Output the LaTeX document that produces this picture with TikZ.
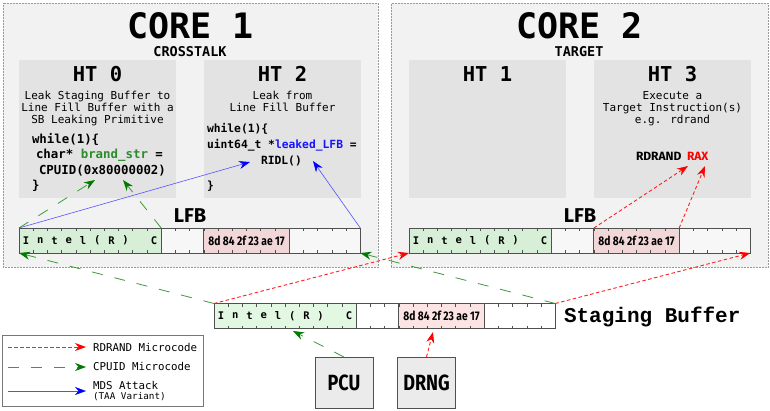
\documentclass[tikz,border=0pt]{standalone}
\usepackage{fontspec}
\usetikzlibrary{calc,arrows.meta}
\newfontfamily\monof{DejaVu Sans Mono}
\newfontfamily\sansf{Fira Sans}
\newfontfamily\hexf[FakeStretch=0.82]{Fira Sans}
\newfontfamily\courf{Liberation Mono}
\definecolor{corebg}{HTML}{F2F2F2}
\definecolor{htbg}{HTML}{E3E3E3}
\definecolor{coreborder}{HTML}{9A9A9A}
\definecolor{cgreen}{HTML}{D6EFD6}
\definecolor{cpink}{HTML}{F2D7D9}
\definecolor{cwhite}{HTML}{F7F7F7}
\definecolor{sgreen}{HTML}{E3F8E3}
\definecolor{spink}{HTML}{FDE4E4}
\definecolor{swhite}{HTML}{FFFFFF}
\definecolor{segline}{HTML}{505050}
\definecolor{redarr}{HTML}{FF0000}
\definecolor{redline}{HTML}{FF2020}
\definecolor{greenarr}{HTML}{007A00}
\definecolor{greenline}{HTML}{3C9A3C}
\definecolor{bluearr}{HTML}{0000FF}
\definecolor{blueline}{HTML}{5050FF}
\definecolor{codegreen}{HTML}{2A8C2A}
\definecolor{codeblue}{HTML}{1414FF}
\definecolor{boxbg}{HTML}{EBEBEB}
\definecolor{legborder}{HTML}{777777}
\newcommand\fsz[1]{\fontsize{#1}{#1}\selectfont}
\tikzset{
  txt/.style={inner sep=0pt, outer sep=0pt},
  corebox/.style={draw=coreborder, densely dotted, line width=0.5pt, fill=corebg, inner sep=0pt, outer sep=0pt, anchor=north west},
  htbox/.style={fill=htbg, draw=none, minimum width=157pt, minimum height=138pt, inner sep=0pt, outer sep=0pt, anchor=north west},
  seg/.style={draw=segline, line width=0.8pt, minimum height=25pt, inner sep=0pt, outer sep=0pt},
  tick/.style={draw=segline, line width=0.6pt},
  bufchar/.style={txt, font={\monof\bfseries\fsz{10.5}}},
  hexs/.style={txt, font={\hexf\bfseries\fsz{12.5}}},
  hwbox/.style={fill=boxbg, draw=segline, line width=0.8pt, minimum width=58pt, minimum height=51pt, inner sep=0pt, outer sep=0pt, anchor=north west, font={\hexf\bfseries\fsz{22}}},
  rdarr/.style={draw=redline, line width=0.9pt, dash pattern=on 3.5pt off 2.5pt, -{Stealth[length=11pt,width=8pt,color=redarr]}},
  grarr/.style={draw=greenline, line width=0.8pt, dash pattern=on 11pt off 12pt, -{Stealth[length=11pt,width=8pt,color=greenarr]}},
  blarr/.style={draw=blueline, line width=0.6pt, -{Stealth[length=11pt,width=8pt,color=bluearr]}},
  desc/.style={txt, anchor=base, font={\monof\fsz{11}}},
  htlab/.style={txt, anchor=base, font={\monof\bfseries\fsz{20.5}}},
  code/.style={txt, anchor=base west, font={\monof\bfseries\fsz{12.4}}},
  codesm/.style={txt, anchor=base west, font={\monof\bfseries\fsz{11.3}}},
  leglab/.style={txt, anchor=base west, font={\monof\fsz{10.8}}}
}
\newcommand\mkbuf[6]{%
  \node[seg,fill=#4,minimum width=142.2pt,anchor=north west] (#1g) at (#2,#3) {};
  \node[seg,fill=#6,minimum width=42.66pt,anchor=north west] (#1a) at (#1g.north east) {};
  \node[seg,fill=#5,minimum width=85.32pt,anchor=north west] (#1p) at (#1a.north east) {};
  \node[seg,fill=#6,minimum width=71.1pt,anchor=north west] (#1b) at (#1p.north east) {};
  \foreach \i in {1,...,23}{
    \draw[tick] ($(#1g.north west)+(\i*14.22,0)$) -- ++(0,3);
    \draw[tick] ($(#1g.south west)+(\i*14.22,0)$) -- ++(0,-3);
  }
  \foreach \c [count=\i from 0] in {I,n,t,e,l,{(},R,{)},{},C}{
    \node[bufchar] (#1c\i) at ($(#1g.west)+({(\i+0.5)*14.22},0)$) {\c};
  }
  \node[hexs] (#1h) at (#1p.center) {8d 84 2f 23 ae 17};
}
\begin{document}
\begin{tikzpicture}[x=1pt,y=-1pt]
\useasboundingbox (0,0) rectangle (770,410);
\fill[white] (0,0) rectangle (770,410);
% cores
\node[corebox, minimum width=375pt, minimum height=264pt] (core1) at (3,3) {};
\node[corebox, minimum width=377pt, minimum height=264pt] (core2) at (391,3) {};
\node[txt, anchor=base, font={\monof\bfseries\fsz{35}}] (t1) at (190.5,38.5) {CORE 1};
\node[txt, anchor=base, font={\monof\bfseries\fsz{13.5}}] (s1) at (190,56.5) {CROSSTALK};
\node[txt, anchor=base, font={\monof\bfseries\fsz{35}}] (t2) at (579.5,38.5) {CORE 2};
\node[txt, anchor=base, font={\monof\bfseries\fsz{13.5}}] (s2) at (579,56.5) {TARGET};
% hyperthreads
\node[htbox] (ht0) at (19,60) {};
\node[htbox] (ht2) at (204,60) {};
\node[htbox] (ht1) at (409,60) {};
\node[htbox] (ht3) at (594,60) {};
\node[htlab] (ht0l) at (97.5,81.5) {HT 0};
\node[htlab] (ht2l) at (282.5,81.5) {HT 2};
\node[htlab] (ht1l) at (487.5,81.5) {HT 1};
\node[htlab] (ht3l) at (672.5,81.5) {HT 3};
\node[desc] (d01) at (97.5,99.5) {Leak Staging Buffer to};
\node[desc] (d02) at (97.5,111.5) {Line Fill Buffer with a};
\node[desc] (d03) at (97.5,123.5) {SB Leaking Primitive};
\node[desc] (d21) at (282.5,99.5) {Leak from};
\node[desc] (d22) at (282.5,111.5) {Line Fill Buffer};
\node[desc] (d31) at (672.5,99.5) {Execute a};
\node[desc] (d32) at (672.5,111.5) {Target Instruction(s)};
\node[desc] (d33) at (672.5,123.5) {e.g. rdrand};
% code HT0
\node[code] (c01) at (32,143) {while(1)\{};
\node[code] (c02) at (36,158.5) {char* \textcolor{codegreen}{brand\_str} =};
\node[code] (cpuid) at (39,174) {CPUID(0x80000002)};
\node[code] (c04) at (32,189.5) {\}};
% code HT2
\node[codesm] (c21) at (207,132.5) {while(1)\{};
\node[codesm] (c22) at (207,148) {uint64\_t *\textcolor{codeblue}{leaked\_LFB} =};
\node[codesm] (ridl) at (261,164) {RIDL()};
\node[codesm] (c24) at (207,189.5) {\}};
% HT3 instruction
\node[txt, anchor=base west, font={\sansf\bfseries\fsz{12}}] (rdr) at (636,160) {RDRAND};
\node[txt, anchor=base west, font={\sansf\bfseries\fsz{12}}, text=redarr] (rax) at (687,160) {RAX};
% LFB labels
\node[txt, anchor=base, font={\sansf\bfseries\fsz{20}}] (lfb1) at (190,222) {LFB};
\node[txt, anchor=base, font={\sansf\bfseries\fsz{20}}] (lfb2) at (580,222) {LFB};
% buffers
\mkbuf{c1}{19}{228}{cgreen}{cpink}{cwhite}
\mkbuf{c2}{409}{228}{cgreen}{cpink}{cwhite}
\mkbuf{sb}{214}{303.5}{sgreen}{spink}{swhite}
\node[txt, anchor=base west, font={\courf\bfseries\fsz{21}}] (sblab) at (564,322) {Staging Buffer};
% hardware units
\node[hwbox] (pcu) at (315,357) {PCU};
\node[hwbox] (drng) at (397.5,357) {DRNG};
% arrow targets
\coordinate (cpA) at (95,180);
\coordinate (cpB) at (123,180);
\coordinate (ridlA) at (250,162);
\coordinate (ridlB) at (313,161);
\coordinate (raxA) at (688,166);
\coordinate (raxB) at (705,166);
\coordinate (pcuT) at (293,331);
\coordinate (drngT) at (433,332);
% connectors
\draw[grarr] (sbg.north west) -- (c1g.south west);
\draw[grarr] (sbb.north east) -- (c1b.south east);
\draw[rdarr] (sbg.north west) -- (c2g.south west);
\draw[rdarr] (sbb.north east) -- (c2b.south east);
\draw[rdarr] (c2p.north west) -- (raxA);
\draw[rdarr] (c2p.north east) -- (raxB);
\draw[rdarr] (drng.north) -- (drngT);
\draw[grarr] (pcu.north) -- (pcuT);
\draw[grarr] (c1g.north west) -- (cpA);
\draw[grarr] (c1g.north east) -- (cpB);
\draw[blarr] (c1g.north west) -- (ridlA);
\draw[blarr] (c1b.north east) -- (ridlB);
% legend
\node[draw=legborder, fill=white, line width=0.6pt, minimum width=201pt, minimum height=71pt, inner sep=0pt, outer sep=0pt, anchor=north west] (leg) at (2,335) {};
\coordinate (l1s) at (8,347); \coordinate (l1e) at (86,347);
\coordinate (l2s) at (8,367); \coordinate (l2e) at (86,367);
\coordinate (l3s) at (8,391); \coordinate (l3e) at (86,391);
\draw[rdarr] (l1s) -- (l1e);
\draw[grarr] (l2s) -- (l2e);
\draw[blarr] (l3s) -- (l3e);
\node[leglab] (lg1) at (93,351) {RDRAND Microcode};
\node[leglab] (lg2) at (93,370.5) {CPUID Microcode};
\node[leglab] (lg3) at (93,389) {MDS Attack};
\node[txt, anchor=base west, font={\monof\fsz{9.3}}] (lg4) at (93,399.5) {(TAA Variant)};
\end{tikzpicture}
\end{document}
